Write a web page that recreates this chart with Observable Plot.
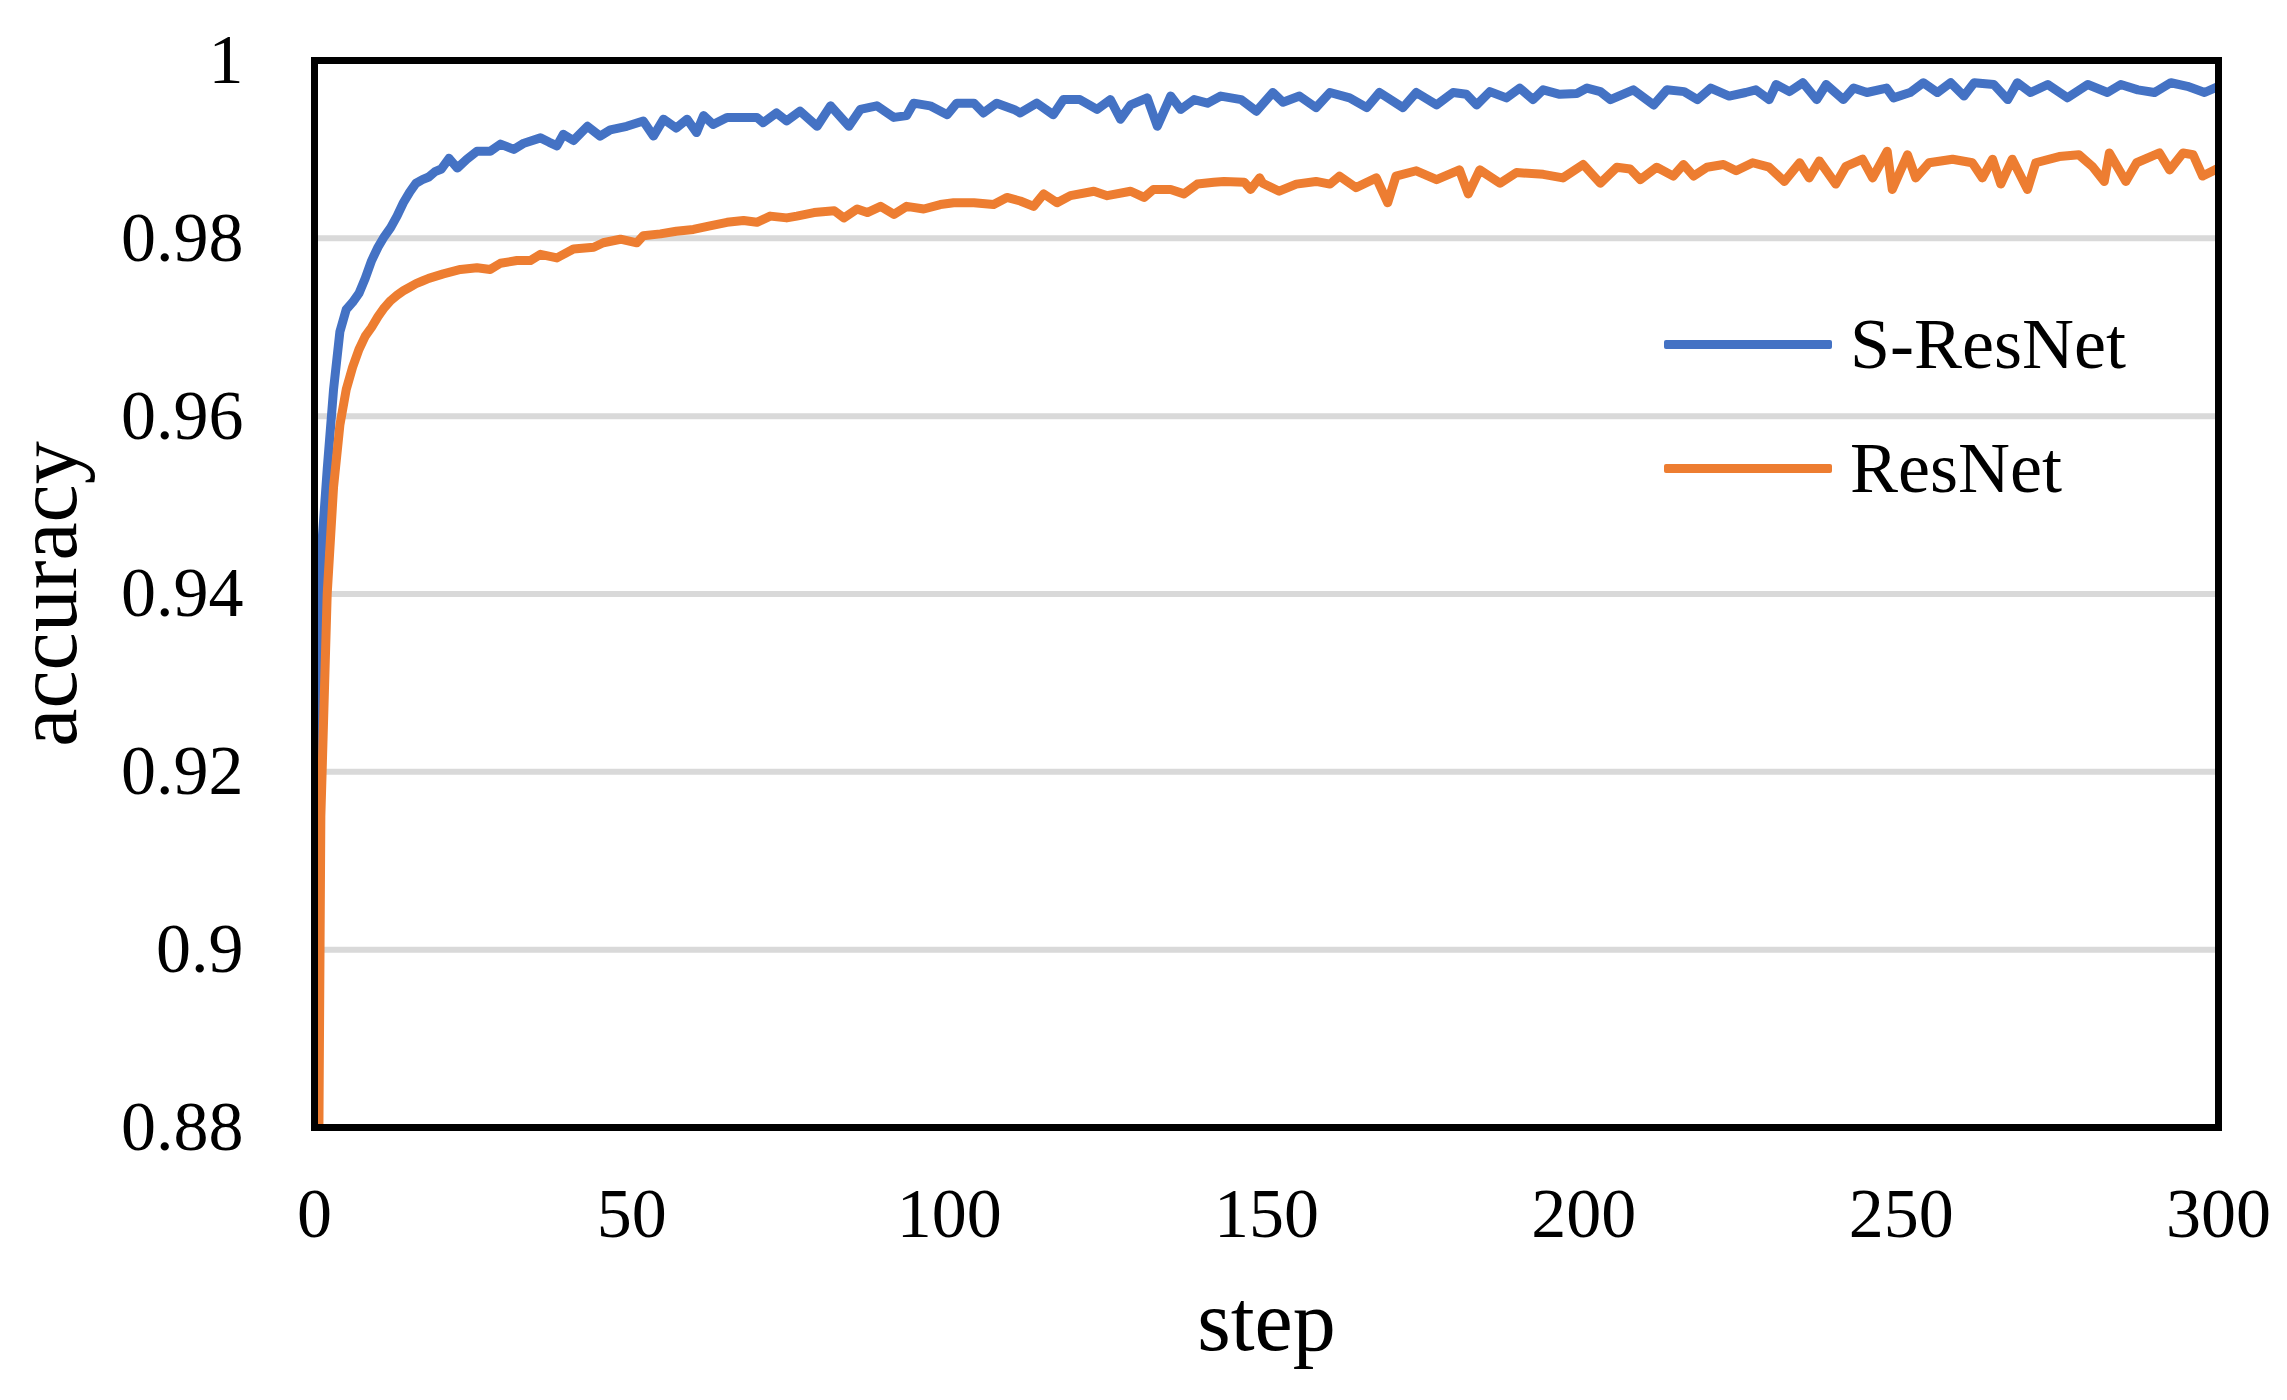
<!DOCTYPE html>
<html>
<head>
<meta charset="utf-8">
<script src="https://cdn.jsdelivr.net/npm/d3@7"></script>
<script src="https://cdn.jsdelivr.net/npm/@observablehq/plot@0.6"></script>
<style>
  html, body { margin: 0; padding: 0; background: #fff; }
  #wrap { position: relative; width: 2287px; height: 1400px; }
  .leg-line { position: absolute; height: 9px; border-radius: 2px; }
  .leg-text { position: absolute; font-family: "Liberation Serif", "Times New Roman", serif; font-size: 72px; line-height: 72px; color: #000; white-space: nowrap; }
</style>
</head>
<body>
<div id="wrap"></div>
<script>
// ---- data ----
const seriesNames = ["S-ResNet", "ResNet"];
const seriesColors = ["#4472C4", "#ED7D31"];

const sresnetStep = [0,1,2,3,4,5,6,7,8,9,10,11,12,13,14,15,16,17,18,19,20,21.2,22.5,24,25.6,27.7,29.3,31.4,33,35.6,37,38.2,39.2,40.8,43,45,46.6,49.2,51.8,53.4,55,57,58.7,60.2,61.3,62.8,65,67.6,69.7,70.7,72.8,74.4,76.5,79.2,81.3,84.2,86,88.6,91.3,93.3,94.4,97,99.7,101.2,103.9,105.4,107.5,110.2,111.2,113.8,116.4,118,120.6,123.3,125.4,127,128.6,131.2,132.8,134.9,136.5,138.6,140.7,142.8,146,148.4,151,152.6,155.2,157.8,160,163.1,165.8,167.8,171.5,173.6,176.8,179.4,181.5,183.1,185.2,187.8,189.9,192,193.6,196.2,198.9,200.5,202.6,204.2,207.8,211,213.1,215.8,217.9,220,222.9,225.5,227.1,229.2,230.3,232.4,234.5,236.7,238.2,240.9,242.5,244.6,247.7,248.8,251.4,253.5,255.7,257.8,259.9,261.5,264.6,266.8,268.3,270.4,273.1,276.2,279.4,282.5,284.6,287.3,289.9,292.5,295.1,297.8,300];
const sresnetAcc = [0.850,0.944,0.954,0.963,0.9695,0.972,0.9728,0.9738,0.9755,0.9775,0.979,0.9802,0.9812,0.9825,0.984,0.9852,0.9862,0.9866,0.9869,0.9875,0.9878,0.989,0.9879,0.9889,0.9898,0.9898,0.9906,0.9900,0.9907,0.9913,0.9908,0.9904,0.9917,0.9910,0.9926,0.9915,0.9922,0.9926,0.9932,0.9915,0.9934,0.9924,0.9934,0.9919,0.9938,0.9928,0.9936,0.9936,0.9936,0.9930,0.9941,0.9932,0.9943,0.9926,0.9949,0.9926,0.9945,0.9949,0.9936,0.9938,0.9952,0.9949,0.9939,0.9952,0.9952,0.9941,0.9952,0.9945,0.9941,0.9952,0.9939,0.9956,0.9956,0.9945,0.9956,0.9934,0.9950,0.9958,0.9926,0.9960,0.9945,0.9956,0.9952,0.9960,0.9956,0.9943,0.9964,0.9953,0.9960,0.9947,0.9964,0.9958,0.9947,0.9964,0.9947,0.9964,0.9950,0.9964,0.9962,0.9950,0.9965,0.9958,0.9969,0.9956,0.9967,0.9962,0.9963,0.9969,0.9965,0.9956,0.9967,0.9950,0.9967,0.9965,0.9956,0.9969,0.9960,0.9964,0.9967,0.9956,0.9973,0.9965,0.9975,0.9956,0.9973,0.9956,0.9969,0.9964,0.9969,0.9958,0.9964,0.9975,0.9964,0.9975,0.9960,0.9975,0.9973,0.9956,0.9975,0.9964,0.9973,0.9958,0.9973,0.9964,0.9973,0.9967,0.9964,0.9975,0.9971,0.9964,0.9971];

const resnetStep = [0,1,2,3,4,5,6,7,8,9,10,11,12,13,14,15,16,17,18,20.3,23,25.6,27.7,29.3,31.9,34,35.6,38.2,40.8,44,45.5,48.2,50.8,51.8,54.5,57,59.7,62.3,65,67.6,69.7,71.8,74.4,76,78.7,81.9,83.4,85.5,87.1,89.2,91.3,93.3,96,98.6,100.7,103.9,107,109.1,111.2,113.3,114.9,117,119.1,122.8,124.9,128.6,130.7,132.2,134.9,137,139.1,141.7,143.3,146.5,147.5,148.9,149.4,152,154.7,157.8,160,161.5,164.1,167.3,169.1,170.4,173.6,176.8,180.4,181.8,183.6,186.8,189.4,193.6,196.7,199.9,202.6,205.2,207.3,208.9,211.5,214.1,215.7,217.3,219.4,222,224,226.6,229.2,231.6,234,235.5,237.1,239.7,241.3,243.9,245.5,247.8,248.6,251,252.3,254.4,258.1,261.2,262.8,264.4,265.7,267.5,269.9,271.2,274.9,278,280.1,282,282.8,285.4,287.1,290.7,292.3,294.4,296,297.5,300];
const resnetAcc = [0.800,0.915,0.940,0.952,0.959,0.963,0.9655,0.9675,0.969,0.970,0.9712,0.9722,0.9730,0.9736,0.9741,0.9745,0.9749,0.9752,0.9755,0.9760,0.9765,0.9767,0.9765,0.9772,0.9775,0.9775,0.9782,0.9778,0.9788,0.9790,0.9795,0.9799,0.9795,0.9803,0.9805,0.9808,0.9810,0.9814,0.9818,0.9820,0.9818,0.9825,0.9823,0.9825,0.9829,0.9831,0.9823,0.9833,0.9829,0.9836,0.9827,0.9836,0.9833,0.9838,0.9840,0.9840,0.9838,0.9846,0.9842,0.9836,0.9850,0.9840,0.9848,0.9853,0.9848,0.9853,0.9846,0.9855,0.9855,0.9850,0.9861,0.9863,0.9864,0.9863,0.9855,0.9868,0.9862,0.9853,0.9861,0.9864,0.9861,0.9870,0.9857,0.9868,0.9840,0.9870,0.9876,0.9866,0.9877,0.9850,0.9877,0.9862,0.9874,0.9872,0.9868,0.9883,0.9862,0.9880,0.9878,0.9866,0.9880,0.9870,0.9883,0.9870,0.9880,0.9883,0.9876,0.9885,0.9880,0.9864,0.9885,0.9868,0.9887,0.9861,0.9881,0.9889,0.9868,0.9898,0.9855,0.9894,0.9868,0.9885,0.9889,0.9885,0.9868,0.9889,0.9861,0.9889,0.9855,0.9885,0.9892,0.9894,0.9881,0.9864,0.9896,0.9864,0.9885,0.9896,0.9877,0.9896,0.9894,0.9870,0.9879];

const xTicks = [0, 50, 100, 150, 200, 250, 300];
const yTicks = [0.88, 0.9, 0.92, 0.94, 0.96, 0.98, 1];
const yGrid = [0.9, 0.92, 0.94, 0.96, 0.98];
const xTitle = "step";
const yTitle = "accuracy";

// ---- build table ----
const sresnet = sresnetStep.map((s, i) => ({step: s, acc: sresnetAcc[i], model: seriesNames[0]}));
const resnet = resnetStep.map((s, i) => ({step: s, acc: resnetAcc[i], model: seriesNames[1]}));

const font = "'Liberation Serif', 'Times New Roman', serif";
const fmt = d => String(+d.toFixed(2));

const chart = Plot.plot({
  width: 2287,
  height: 1400,
  marginLeft: 314,
  marginRight: 69,
  marginTop: 60,
  marginBottom: 273,
  style: {fontFamily: font, background: "#fff", color: "#000"},
  x: {domain: [0, 300]},
  y: {domain: [0.88, 1]},
  marks: [
    Plot.gridY(yGrid, {stroke: "#D9D9D9", strokeWidth: 6, strokeOpacity: 1}),
    Plot.line(sresnet, {x: "step", y: "acc", stroke: seriesColors[0], strokeWidth: 9, clip: true, strokeLinejoin: "round"}),
    Plot.line(resnet, {x: "step", y: "acc", stroke: seriesColors[1], strokeWidth: 9, clip: true, strokeLinejoin: "round"}),
    Plot.axisY(yTicks, {tickSize: 0, tickPadding: 71, fontSize: 70, tickFormat: fmt, label: null}),
    Plot.axisX(xTicks, {tickSize: 0, tickPadding: 60, fontSize: 70, tickFormat: fmt, label: null}),
    Plot.axisX([], {label: xTitle, labelAnchor: "center", labelArrow: "none", labelOffset: 222, fontSize: 86, tickSize: 0}),
    Plot.axisY([], {label: yTitle, labelAnchor: "center", labelArrow: "none", labelOffset: 300, fontSize: 86, tickSize: 0}),
    Plot.frame({stroke: "#000", strokeWidth: 7})
  ]
});

const wrap = document.getElementById("wrap");
wrap.appendChild(chart);

// legend (inside the plot area, as in the reference)
const legendRows = [{top: 308}, {top: 432}];
seriesNames.forEach((name, i) => {
  const line = document.createElement("div");
  line.className = "leg-line";
  line.style.left = "1664px";
  line.style.width = "168px";
  line.style.top = (legendRows[i].top + 36 - 4) + "px";
  line.style.background = seriesColors[i];
  wrap.appendChild(line);
  const t = document.createElement("div");
  t.className = "leg-text";
  t.style.left = "1850px";
  t.style.top = legendRows[i].top + "px";
  t.textContent = name;
  wrap.appendChild(t);
});
</script>
</body>
</html>
